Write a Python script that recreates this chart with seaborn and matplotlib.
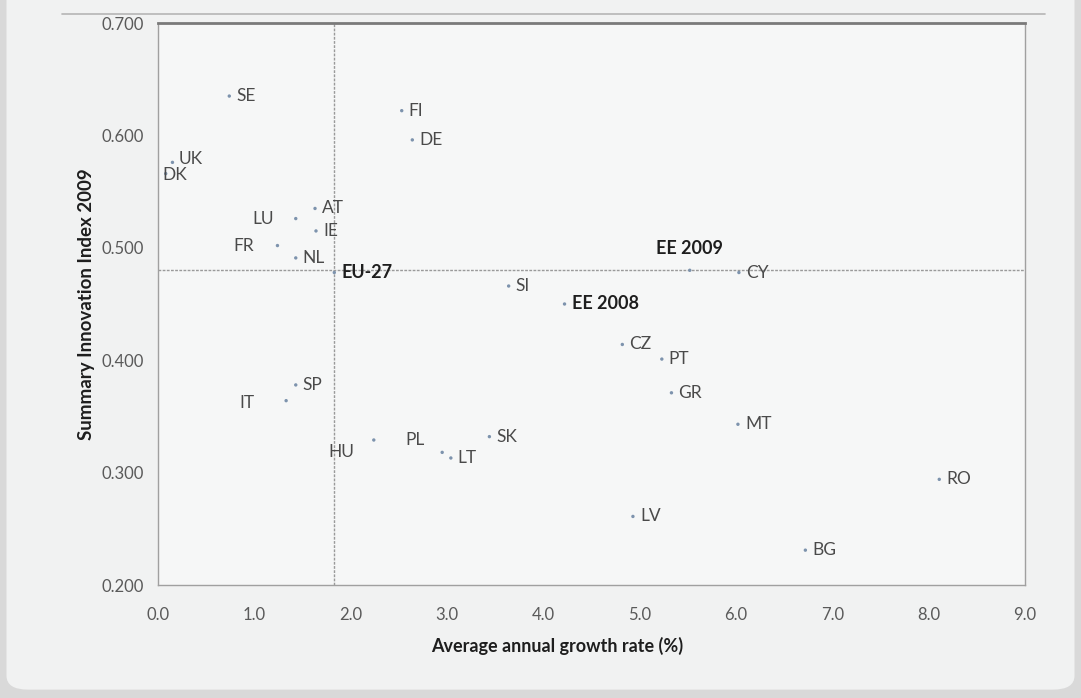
import matplotlib.pyplot as plt
import pandas as pd
import seaborn as sns
from matplotlib.patches import FancyBboxPatch
from matplotlib.lines import Line2D

# Data
countries = ['SE', 'FI', 'DE', 'UK', 'DK', 'AT', 'LU', 'IE', 'FR', 'NL', 'EU-27',
             'SI', 'EE 2008', 'EE 2009', 'CY', 'CZ', 'PT', 'GR', 'MT', 'RO', 'LV',
             'BG', 'SP', 'IT', 'HU', 'PL', 'LT', 'SK']
growth = [0.74, 2.53, 2.64, 0.15, 0.08, 1.63, 1.43, 1.64, 1.24, 1.43, 1.83,
          3.64, 4.22, 5.52, 6.03, 4.82, 5.23, 5.33, 6.02, 8.11, 4.93,
          6.72, 1.43, 1.33, 2.24, 2.95, 3.04, 3.44]
sii = [0.635, 0.622, 0.596, 0.576, 0.566, 0.535, 0.526, 0.515, 0.502, 0.491, 0.478,
       0.466, 0.450, 0.480, 0.478, 0.414, 0.401, 0.371, 0.343, 0.294, 0.261,
       0.231, 0.378, 0.364, 0.329, 0.318, 0.313, 0.332]
bold_labels = ['EU-27', 'EE 2008', 'EE 2009']
eu_growth = 1.83
eu_sii = 0.480

x_ticks = [0, 1, 2, 3, 4, 5, 6, 7, 8, 9]
y_ticks = [0.2, 0.3, 0.4, 0.5, 0.6, 0.7]

df = pd.DataFrame({'country': countries, 'growth': growth, 'sii': sii})

# label offsets in pixels (dx, dy, ha)
offsets = {
    'UK': (6, 3, 'left'), 'DK': (-3, -1, 'left'),
    'LU': (-22, 0, 'right'), 'FR': (-23, 0, 'right'), 'IT': (-32, -2, 'right'),
    'HU': (-20, -12, 'right'), 'PL': (-18, 12, 'right'),
    'EE 2009': (0, 22, 'center'),
}

sns.set_theme(style='white')
plt.rcParams['font.family'] = ['Lato', 'DejaVu Sans']

fig = plt.figure(figsize=(10.81, 6.98), dpi=100)
fig.patch.set_facecolor('#d9d9d9')
panel = FancyBboxPatch((0.006, 0.012), 0.988, 1.2, boxstyle='round,pad=0,rounding_size=0.02',
                       transform=fig.transFigure, facecolor='#f1f2f2', edgecolor='none', zorder=-10)
fig.patches.append(panel)
fig.lines.append(Line2D([62 / 1081, 1045 / 1081], [1 - 14 / 698, 1 - 14 / 698],
                        transform=fig.transFigure, color='#b5b5b5', lw=1.2, zorder=-9))

ax = fig.add_axes([158 / 1081, 1 - 585 / 698, (1025 - 158) / 1081, (585 - 23) / 698])
ax.set_zorder(5)
ax.set_facecolor('#f6f7f7')

ax.axvline(eu_growth, color='#9a9a9a', lw=1, ls=(0, (2, 1)), zorder=1)
ax.axhline(eu_sii, color='#9a9a9a', lw=1, ls=(0, (2, 1)), zorder=1)

sns.scatterplot(data=df, x='growth', y='sii', ax=ax, color='#7d93ad', s=6,
                edgecolor='none', zorder=3, legend=False)

for c, gx, gy in zip(countries, growth, sii):
    dx, dy, ha = offsets.get(c, (7, 0, 'left'))
    bold = c in bold_labels
    ax.annotate(c, (gx, gy), xytext=(dx, dy), textcoords='offset pixels',
                ha=ha, va='center', fontsize=13 if bold else 12.5,
                fontweight='bold' if bold else 'normal',
                color='#1e1e1e' if bold else '#4a4a4a', zorder=4)

ax.set_xlim(0, 9)
ax.set_ylim(0.2, 0.7)
ax.set_xticks(x_ticks)
ax.set_xticklabels([f'{v:.1f}' for v in x_ticks])
ax.set_yticks(y_ticks)
ax.set_yticklabels([f'{v:.3f}' for v in y_ticks])
ax.tick_params(axis='both', which='major', direction='out', length=4, width=0.8,
               color='#999999', labelsize=12, labelcolor='#5a5a5a', pad=6)
ax.tick_params(axis='x', pad=12)

for side in ['left', 'bottom', 'right']:
    ax.spines[side].set_color('#a0a0a0')
    ax.spines[side].set_linewidth(1)
ax.spines['top'].set_color('#7a7a7a')
ax.spines['top'].set_linewidth(2)

ax.set_xlabel('Average annual growth rate (%)', fontsize=13, fontweight='bold',
              color='#1e1e1e')
ax.set_ylabel('Summary Innovation Index 2009', fontsize=13.5, fontweight='bold',
              color='#1e1e1e')
ax.xaxis.set_label_coords(0.46, -0.092)
ax.yaxis.set_label_coords(-0.073, 0.5)

fig.savefig('out.png', dpi=100, facecolor=fig.get_facecolor())
